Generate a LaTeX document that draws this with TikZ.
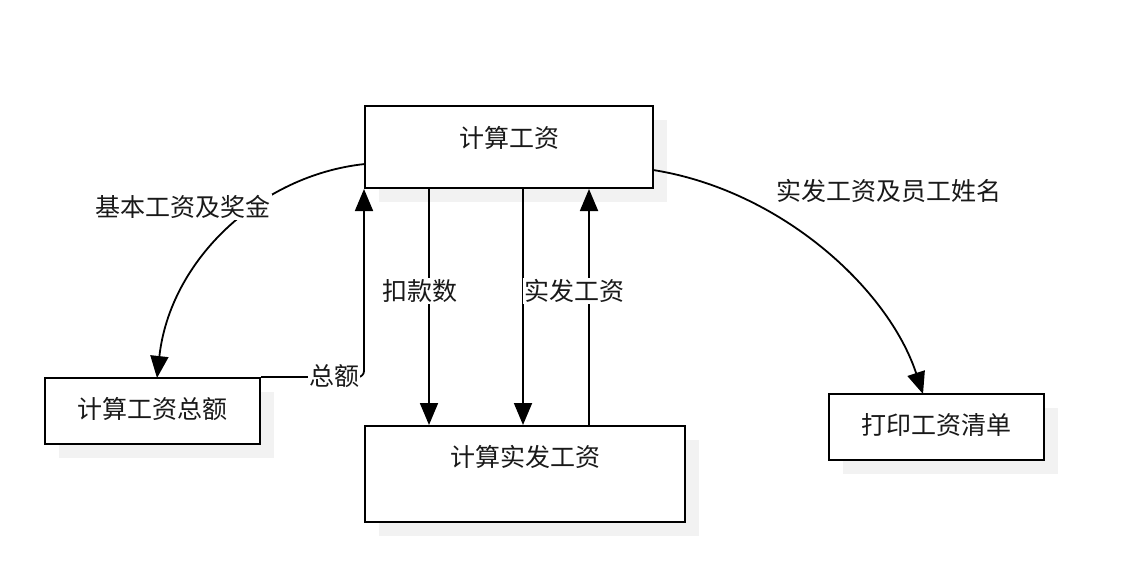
\documentclass[tikz,border=0pt]{standalone}
\usepackage{fontspec}
\setmainfont{Noto Sans CJK SC}
\usetikzlibrary{arrows.meta,shadows}
\definecolor{shadowgray}{HTML}{F2F2F2}
\tikzset{
  box/.style={draw=black, line width=2pt, fill=white, inner sep=0pt,
    general shadow={fill=shadowgray, shadow xshift=14pt, shadow yshift=-14pt}},
  txt/.style={font=\fontsize{25}{30}\selectfont, inner sep=1pt, text=black!90},
  lbl/.style={txt, fill=white, inner sep=1pt},
  flow/.style={line width=1.8pt, -{Triangle[length=22pt,width=18pt]}},
  plain/.style={line width=1.8pt}
}
\begin{document}
\begin{tikzpicture}[x=1pt,y=-1pt]
\useasboundingbox (0,0) rectangle (1145,575);
% boxes
\node[box, minimum width=288pt, minimum height=82pt] (top) at (509,147) {};
\node[txt] (toptext) at (509,138) {计算工资};
\node[box, minimum width=320pt, minimum height=96pt] (calc) at (525,474) {};
\node[txt] (calctext) at (525,457) {计算实发工资};
\node[box, minimum width=215pt, minimum height=66pt] (total) at (152.5,411) {};
\node[txt] (totaltext) at (152.5,409) {计算工资总额};
\node[box, minimum width=215pt, minimum height=66pt] (print) at (936.5,427) {};
\node[txt] (printtext) at (936.5,425) {打印工资清单};
% helper coordinates
\coordinate (kx) at (429,0);
\coordinate (sx) at (523,0);
\coordinate (ux) at (589,0);
\coordinate (ls) at (365,164);
\coordinate (le) at (157,378);
\coordinate (rs) at (653,170);
\coordinate (re) at (923,394);
% curves
\draw[flow] (ls) .. controls (260,175) and (170,260) .. (le);
\draw[flow] (rs) .. controls (780,190) and (888,288) .. (re);
% total -> top
\draw[flow, rounded corners=6pt] (total.north east) -| (top.south west);
% vertical arrows
\draw[flow] (top.south -| kx) -- (calc.north -| kx);
\draw[flow] (top.south -| sx) -- (calc.north -| sx);
\draw[flow] (calc.north -| ux) -- (top.south -| ux);
% labels
\node[lbl] (l1) at (183,207) {基本工资及奖金};
\node[txt] (l2) at (889,191) {实发工资及员工姓名};
\node[lbl] (l3) at (334,376) {总额};
\node[lbl] (l4) at (420,291) {扣款数};
\node[lbl] (l5) at (574,291) {实发工资};
\end{tikzpicture}
\end{document}
